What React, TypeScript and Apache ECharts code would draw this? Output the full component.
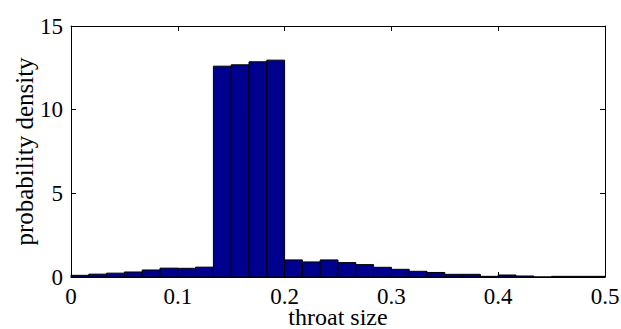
import React, { useEffect, useRef } from "react";
import * as echarts from "echarts";

// Histogram: 30 bins over [0, 0.5]
const binWidth = 1 / 60;
const densities = [
  0.1, 0.17, 0.23, 0.3, 0.42, 0.53, 0.52, 0.59,
  12.6, 12.68, 12.86, 12.96,
  1.02, 0.9, 1.02, 0.86, 0.74, 0.58, 0.46, 0.34,
  0.27, 0.16, 0.16, 0.04, 0.12, 0.06, 0, 0.04, 0.04, 0.04,
];
const xTicks = [0, 0.1, 0.2, 0.3, 0.4, 0.5];
const yTicks = [0, 5, 10, 15];

const FONT = "Times New Roman";

export default function App() {
  const ref = useRef<HTMLDivElement>(null);
  useEffect(() => {
    if (!ref.current) return;
    const chart = echarts.init(ref.current, undefined, { renderer: "svg" });
    const data = densities.map((d, i) => [i * binWidth, (i + 1) * binWidth, d]);
    const tickCommon = { show: true, inside: true, length: 5, lineStyle: { color: "#000", width: 1 } };
    chart.setOption({
      animation: false,
      backgroundColor: "#fff",
      textStyle: { fontFamily: FONT },
      grid: { left: 71, right: 16, top: 26, bottom: 52, containLabel: false, outerBoundsMode: "none" },
      xAxis: [
        {
          type: "value",
          min: 0,
          max: 0.5,
          interval: 0.1,
          position: "bottom",
          name: "throat size",
          nameLocation: "middle",
          nameGap: 28,
          nameMoveOverlap: false,
          nameTextStyle: { fontFamily: FONT, fontSize: 24, color: "#000" },
          axisLine: { show: true, onZero: false, lineStyle: { color: "#000", width: 1 } },
          axisTick: tickCommon,
          axisLabel: {
            fontFamily: FONT,
            fontSize: 23,
            color: "#000",
            margin: 8,
            formatter: (v: number) => (xTicks.includes(+v.toFixed(2)) ? String(+v.toFixed(2)) : ""),
          },
          splitLine: { show: false },
        },
        {
          type: "value",
          min: 0,
          max: 0.5,
          interval: 0.1,
          position: "top",
          axisLine: { show: true, onZero: false, lineStyle: { color: "#000", width: 1 } },
          axisTick: tickCommon,
          axisLabel: { show: false },
          splitLine: { show: false },
        },
      ],
      yAxis: [
        {
          type: "value",
          min: 0,
          max: 15,
          interval: 5,
          position: "left",
          name: "probability density",
          nameLocation: "middle",
          nameGap: 34,
          nameMoveOverlap: false,
          nameRotate: 90,
          nameTextStyle: { fontFamily: FONT, fontSize: 25, color: "#000" },
          axisLine: { show: true, onZero: false, lineStyle: { color: "#000", width: 1 } },
          axisTick: tickCommon,
          axisLabel: {
            fontFamily: FONT,
            fontSize: 23,
            color: "#000",
            margin: 8,
            formatter: (v: number) => (yTicks.includes(v) ? String(v) : ""),
          },
          splitLine: { show: false },
        },
        {
          type: "value",
          min: 0,
          max: 15,
          interval: 5,
          position: "right",
          axisLine: { show: true, onZero: false, lineStyle: { color: "#000", width: 1 } },
          axisTick: tickCommon,
          axisLabel: { show: false },
          splitLine: { show: false },
        },
      ],
      series: [
        {
          type: "custom",
          xAxisIndex: 0,
          yAxisIndex: 0,
          data,
          encode: { x: [0, 1], y: 2 },
          renderItem: (params: any, api: any) => {
            const x0 = api.value(0);
            const x1 = api.value(1);
            const h = api.value(2);
            const p0 = api.coord([x0, 0]);
            const p1 = api.coord([x1, h]);
            return {
              type: "rect",
              shape: { x: p0[0], y: p1[1], width: p1[0] - p0[0], height: p0[1] - p1[1] },
              style: { fill: "#00008F", stroke: "#000", lineWidth: 1 },
            };
          },
          z: 1,
        },
      ],
    });
    return () => chart.dispose();
  }, []);
  return (
    <div
      ref={ref}
      style={{ position: "fixed", left: 0, top: 0, width: 621, height: 329, background: "#fff" }}
    />
  );
}
